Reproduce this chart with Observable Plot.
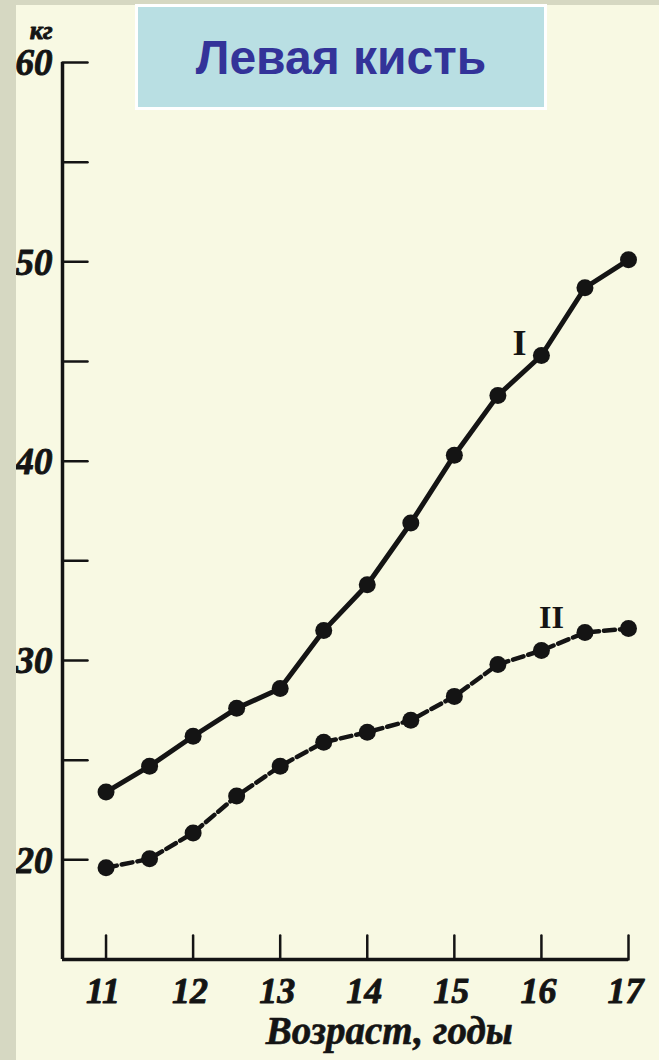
<!DOCTYPE html>
<html><head><meta charset="utf-8">
<script src="https://cdn.jsdelivr.net/npm/d3@7"></script>
<script src="https://cdn.jsdelivr.net/npm/@observablehq/plot@0.6"></script>
<style>
html,body{margin:0;padding:0;}
body{width:659px;height:1060px;background:#d6d8c2;position:relative;overflow:hidden;}
#paper{position:absolute;left:16px;top:5px;right:0;bottom:0;background:#f8f9e3;}
#chart{position:absolute;left:0;top:0;}
#strip{position:absolute;left:0;top:0;width:16px;height:1060px;background:#d6d8c2;}
#title{position:absolute;left:135px;top:4px;width:406px;height:100px;background:#b9dfe3;border:3px solid #fff;
  font:bold 48px "Liberation Sans",Arial,sans-serif;color:#333399;display:flex;align-items:center;justify-content:center;}
</style></head><body>
<div id="paper"></div><div id="chart"></div><div id="strip"></div><div id="title">Левая кисть</div>
<script>
// Age, years
const ages = [11, 11.5, 12, 12.5, 13, 13.5, 14, 14.5, 15, 15.5, 16, 16.5, 17];
// Series I (solid), kg
const seriesI = [23.4, 24.7, 26.2, 27.6, 28.6, 31.5, 33.8, 36.9, 40.3, 43.3, 45.3, 48.7, 50.1];
// Series II (dashed), kg
const seriesII = [19.6, 20.05, 21.35, 23.2, 24.7, 25.9, 26.4, 27.0, 28.2, 29.8, 30.5, 31.4, 31.6];
const seriesNames = ["I", "II"];
const xTicks = [11, 12, 13, 14, 15, 16, 17];
const yTicks = [20, 25, 30, 35, 40, 45, 50, 55, 60];
const yLabels = [20, 30, 40, 50, 60];
const unitLabel = "кг";
const xTitle = "Возраст, годы";

const ink = "#141414";
const dataI = ages.map((a, i) => ({age: a, v: seriesI[i]}));
const dataII = ages.map((a, i) => ({age: a, v: seriesII[i]}));
const xMin = 10.5, yMin = 15;
const lineShape = {draw(ctx, l) { ctx.moveTo(0, 0); ctx.lineTo(0, -l); }};
const numFont = {fontFamily: "'Liberation Serif', serif", fontStyle: "italic", fontWeight: "bold", fill: ink, stroke: ink, strokeWidth: 0.9};

const chart = Plot.plot({
  width: 659, height: 1060, margin: 0,
  style: {background: "transparent", overflow: "visible"},
  x: {domain: [xMin, 17], range: [62, 628], axis: null},
  y: {domain: [yMin, 60], range: [959, 62], axis: null},
  marks: [
    // axes lines
    Plot.ruleX([xMin], {y1: yMin, y2: 60, stroke: ink, strokeWidth: 3.5}),
    Plot.ruleY([yMin], {x1: xMin, x2: 17, stroke: ink, strokeWidth: 3.5}),
    // inward ticks
    Plot.vector(yTicks, {x: xMin, y: d => d, length: 25, rotate: 90, anchor: "start", shape: lineShape, stroke: ink, strokeWidth: 2.5, strokeLinecap: "round"}),
    Plot.vector(xTicks, {x: d => d, y: yMin, length: 24, rotate: 0, anchor: "start", shape: lineShape, stroke: ink, strokeWidth: 2.5, strokeLinecap: "round"}),
    // tick labels
    Plot.text(yLabels, {x: xMin, y: d => d, text: d => String(d), textAnchor: "end", dx: -10, dy: 1, fontSize: 37, ...numFont}),
    Plot.text([60], {x: xMin, y: d => d, text: () => unitLabel, textAnchor: "end", dx: -10, dy: -32, fontSize: 26, ...numFont}),
    Plot.text(xTicks, {x: d => d, y: yMin, text: d => String(d), dy: 32, dx: -3, fontSize: 36, ...numFont}),
    Plot.text([14], {x: d => d, y: yMin, text: () => xTitle, dy: 72, dx: 22, fontSize: 39, ...numFont, strokeWidth: 0.6}),
    // series
    Plot.line(dataII, {x: "age", y: "v", stroke: ink, strokeWidth: 4.5, strokeDasharray: "11,5"}),
    Plot.dot(dataII, {x: "age", y: "v", r: 8.5, fill: ink}),
    Plot.line(dataI, {x: "age", y: "v", stroke: ink, strokeWidth: 5}),
    Plot.dot(dataI, {x: "age", y: "v", r: 8.5, fill: ink}),
    // series labels
    Plot.text([dataI[10]], {x: "age", y: "v", text: () => seriesNames[0], dx: -22, dy: -12, fontSize: 36, fontFamily: "'Liberation Serif', serif", fontWeight: "bold", fill: ink}),
    Plot.text([dataII[10]], {x: "age", y: "v", text: () => seriesNames[1], dx: 10, dy: -33, fontSize: 32, fontFamily: "'Liberation Serif', serif", fontWeight: "bold", fill: ink})
  ]
});
document.getElementById("chart").appendChild(chart);
</script>
</body></html>
